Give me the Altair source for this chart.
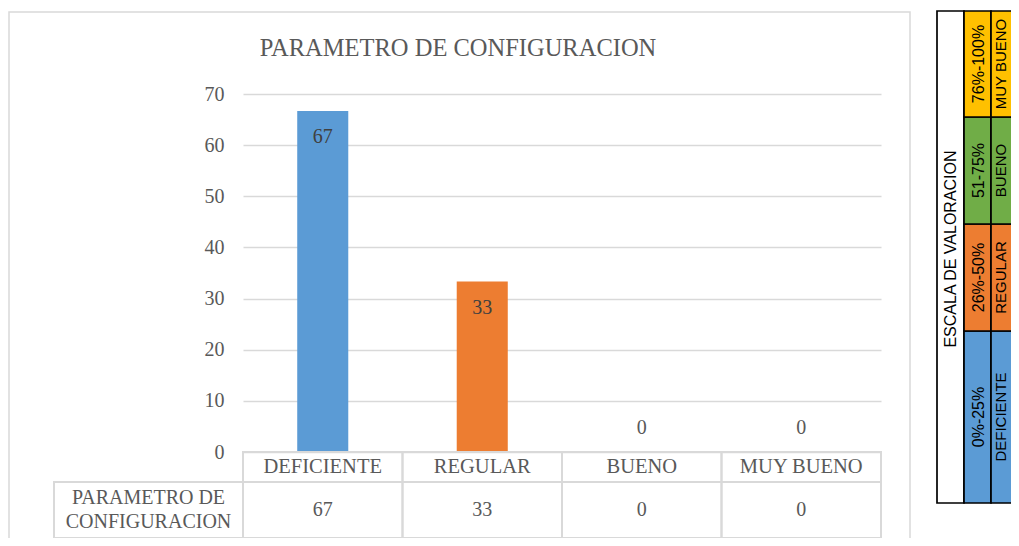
import altair as alt
import pandas as pd

# ---------------- data ----------------
TITLE = "PARAMETRO DE CONFIGURACION"
CATEGORIES = ["DEFICIENTE", "REGULAR", "BUENO", "MUY BUENO"]
VALUES = [66.67, 33.33, 0, 0]
COLORS = ["#5B9BD5", "#ED7D31", "#70AD47", "#FFC000"]
Y_TICKS = [0, 10, 20, 30, 40, 50, 60, 70]
SERIES_LABEL = ["PARAMETRO DE", "CONFIGURACION"]
SCALE_TITLE = "ESCALA DE VALORACION"
SCALE_LEVELS = ["DEFICIENTE", "REGULAR", "BUENO", "MUY BUENO"]
SCALE_RANGES = ["0%-25%", "26%-50%", "51-75%", "76%-100%"]

# ---------------- layout (pixels, relative to plot origin) ----------------
W, H = 638, 358
PAD = {"left": 235, "top": 86, "right": 130, "bottom": 86}
GRID = "#d9d9d9"
TXT = "#595959"
SERIF = "Liberation Serif"
SANS = "Liberation Sans"

HEADER_ROW = (358, 388)
VALUE_ROW = (388, 444)
LEFT_CELL_X = (-189, 0)
FRAME = (-234, 667, -82, 470)
TITLE_POS = (215, -38)
LEG_COLS = [694, 721, 748, 780]
LEG_ROWS = [(237, 409), (130, 237), (23, 130), (-83, 23)]  # per level, bottom to top

df = pd.DataFrame({"cat": CATEGORIES, "value": VALUES})

xs = alt.X("cat:N", sort=CATEGORIES, axis=None,
           scale=alt.Scale(paddingInner=0, paddingOuter=0))
ys = alt.Y("value:Q", axis=alt.Axis(values=Y_TICKS, grid=True, gridColor=GRID,
                                     gridWidth=1.5, domain=False, ticks=False,
                                     tickSize=0, labelPadding=19, labelFont=SERIF,
                                     labelFontSize=20, labelColor=TXT, title=None),
           scale=alt.Scale(domain=[0, 70], nice=False))

base = alt.Chart(df)

bars = base.mark_bar(width={"band": 0.32}).encode(
    x=xs, y=ys,
    color=alt.Color("cat:N", scale=alt.Scale(domain=CATEGORIES, range=COLORS), legend=None),
)

labels_in = base.transform_filter("datum.value > 0").mark_text(
    font=SERIF, fontSize=20, color="#404040", baseline="middle", dy=26
).encode(x=xs, y=alt.Y("value:Q"), text=alt.Text("value:Q", format=".0f"))

labels_zero = base.transform_filter("datum.value <= 0").mark_text(
    font=SERIF, fontSize=20, color=TXT, baseline="middle", dy=-24
).encode(x=xs, y=alt.Y("value:Q"), text=alt.Text("value:Q", format=".0f"))

# data table under the chart
hdr_cells = base.mark_rect(fill="white", fillOpacity=0, stroke=GRID, strokeWidth=2).encode(
    x=xs, y=alt.value(HEADER_ROW[0]), y2=alt.value(HEADER_ROW[1]))
val_cells = base.mark_rect(fill="white", fillOpacity=0, stroke=GRID, strokeWidth=2).encode(
    x=xs, y=alt.value(VALUE_ROW[0]), y2=alt.value(VALUE_ROW[1]))
hdr_text = base.mark_text(font=SERIF, fontSize=20.5, color=TXT, baseline="middle").encode(
    x=xs, y=alt.value(sum(HEADER_ROW) / 2), text="cat:N")
val_text = base.mark_text(font=SERIF, fontSize=20, color=TXT, baseline="middle").encode(
    x=xs, y=alt.value(sum(VALUE_ROW) / 2), text=alt.Text("value:Q", format=".0f"))

one = alt.Chart(pd.DataFrame({"k": [0]}))
left_cell = one.mark_rect(fill="white", fillOpacity=0, stroke=GRID, strokeWidth=2).encode(
    x=alt.value(LEFT_CELL_X[0]), x2=alt.value(LEFT_CELL_X[1]),
    y=alt.value(VALUE_ROW[0]), y2=alt.value(VALUE_ROW[1]))
left_text = one.mark_text(font=SERIF, fontSize=20, color=TXT, baseline="middle",
                          lineHeight=24).encode(
    x=alt.value(sum(LEFT_CELL_X) / 2), y=alt.value(sum(VALUE_ROW) / 2 - 12),
    text=alt.value(SERIES_LABEL))

frame = one.mark_rect(fill="white", fillOpacity=0, stroke=GRID, strokeWidth=1.5).encode(
    x=alt.value(FRAME[0]), x2=alt.value(FRAME[1]), y=alt.value(FRAME[2]), y2=alt.value(FRAME[3]))

title = one.mark_text(font=SERIF, fontSize=24.5, color=TXT, baseline="alphabetic").encode(
    x=alt.value(TITLE_POS[0]), y=alt.value(TITLE_POS[1]), text=alt.value(TITLE))

# rotated valuation scale table on the right
leg = pd.DataFrame({
    "level": SCALE_LEVELS, "range": SCALE_RANGES, "color": COLORS,
    "y0": [r[0] for r in LEG_ROWS], "y1": [r[1] for r in LEG_ROWS],
})
leg["yc"] = (leg["y0"] + leg["y1"]) / 2
lb = alt.Chart(leg)
LS = dict(stroke="black", strokeWidth=1.7)
leg_c1 = one.mark_rect(fill="white", **LS).encode(
    x=alt.value(LEG_COLS[0]), x2=alt.value(LEG_COLS[1]),
    y=alt.value(LEG_ROWS[3][0]), y2=alt.value(LEG_ROWS[0][1]))
leg_c2 = lb.mark_rect(**LS).encode(
    x=alt.value(LEG_COLS[1]), x2=alt.value(LEG_COLS[2]),
    y=alt.Y("y0:Q", scale=None), y2="y1:Q", fill=alt.Fill("color:N", scale=None))
leg_c3 = lb.mark_rect(**LS).encode(
    x=alt.value(LEG_COLS[2]), x2=alt.value(LEG_COLS[3]),
    y=alt.Y("y0:Q", scale=None), y2="y1:Q", fill=alt.Fill("color:N", scale=None))
leg_title = one.mark_text(font=SANS, fontSize=16, color="black", angle=270,
                          align="center", baseline="middle").encode(
    x=alt.value((LEG_COLS[0] + LEG_COLS[1]) / 2), y=alt.value(155), text=alt.value(SCALE_TITLE))
leg_range = lb.mark_text(font=SANS, fontSize=16, color="black", angle=270,
                         align="center", baseline="middle").encode(
    x=alt.value((LEG_COLS[1] + LEG_COLS[2]) / 2 + 1), y=alt.Y("yc:Q", scale=None), text="range:N")
leg_level = lb.mark_text(font=SANS, fontSize=15, color="black", angle=270,
                         align="center", baseline="middle").encode(
    x=alt.value(LEG_COLS[2] + 10), y=alt.Y("yc:Q", scale=None), text="level:N")

chart = alt.layer(
    frame, title, bars, labels_in, labels_zero,
    hdr_cells, val_cells, hdr_text, val_text, left_cell, left_text,
    leg_c1, leg_c2, leg_c3, leg_title, leg_range, leg_level,
).properties(
    width=W, height=H,
    padding=PAD,
    autosize=alt.AutoSizeParams(type="none"),
    background="white",
).configure_view(stroke=None)

chart.save("out.html", embed_options={"renderer": "svg", "actions": False})
